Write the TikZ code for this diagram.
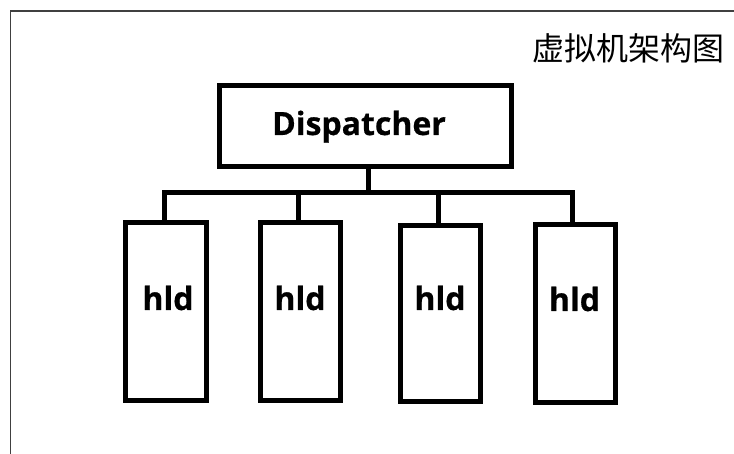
\documentclass[tikz,border=0pt]{standalone}
\usepackage{fontspec}
\setmainfont{Open Sans}
\newfontfamily\heavy{Open Sans}[BoldFeatures={FakeBold=0.6}]
\newfontfamily\cjk{Noto Sans CJK SC}
\usetikzlibrary{calc}
\begin{document}
\begin{tikzpicture}[x=1pt,y=-1pt,
  boxnode/.style={draw=black,line width=5pt,inner sep=0pt,fill=white},
  lbl/.style={font=\heavy\bfseries\fontsize{32}{32}\selectfont,inner sep=0pt,anchor=base},
  wire/.style={draw=black,line width=5pt,line join=miter},
  frame/.style={draw=black!75,line width=1.4pt},
  titletext/.style={font=\cjk\fontsize{32}{32}\selectfont,inner sep=0pt}]
\useasboundingbox (0,0) rectangle (734,454);
\clip (0,0) rectangle (734,454);
\fill[white] (0,0) rectangle (734,454);
\draw[frame] (10.5,11) rectangle (780,500);
\node[titletext] (title) at (628,48.5) {虚拟机架构图};
% nodes
\node[boxnode,minimum width=292pt,minimum height=81pt] (disp) at (365.5,126) {};
\node[boxnode,minimum width=81pt,minimum height=178pt] (h1) at (166,311.5) {};
\node[boxnode,minimum width=80pt,minimum height=178pt] (h2) at (300.5,311.5) {};
\node[boxnode,minimum width=80pt,minimum height=176pt] (h3) at (440.5,313.5) {};
\node[boxnode,minimum width=80pt,minimum height=178pt] (h4) at (575.5,313.5) {};
% connectors
\coordinate (bl) at (164.5,192.5);
\coordinate (b2) at (298.5,192.5);
\coordinate (bm) at (368.5,192.5);
\coordinate (b3) at (438.5,192.5);
\coordinate (br) at (572.5,192.5);
\draw[wire] ($(h1.north)+(-1.5,0)$) -- (bl) -- (br) -- ($(h4.north)+(-3,0)$);
\draw[wire] ($(disp.south)+(3,0)$) -- (bm);
\draw[wire] (b2) -- ($(h2.north)+(-2,0)$);
\draw[wire] (b3) -- ($(h3.north)+(-2,0)$);
% labels
\node[lbl] (tdisp) at (359,135) {Dispatcher};
\node[lbl] (t1) at (168,310) {hld};
\node[lbl] (t2) at (300,310) {hld};
\node[lbl] (t3) at (440,310) {hld};
\node[lbl] (t4) at (574.5,311) {hld};
\end{tikzpicture}
\end{document}
